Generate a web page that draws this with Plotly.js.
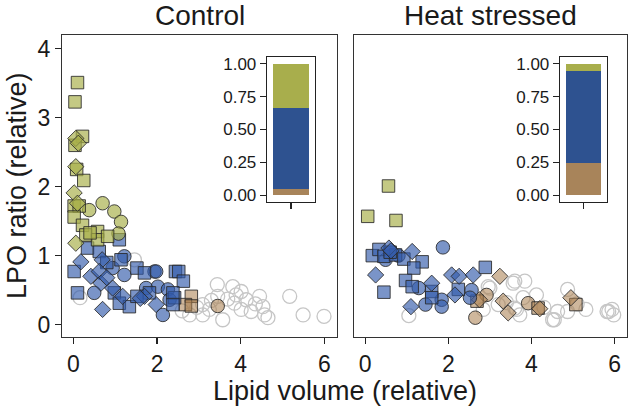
<!DOCTYPE html>
<html>
<head>
<meta charset="utf-8">
<script src="https://cdn.plot.ly/plotly-3.0.1.min.js"></script>
<style>html,body{margin:0;padding:0;background:#fff;}#chart{width:630px;height:411px;}</style>
</head>
<body>
<div id="chart"></div>
<script>
// ---------------- Data ----------------
// Control panel
var ctrlGreenSqX = [0.10,0.04,0.22,0.04,0.08,0.25,0.02,0.14,0.02,0.22,0.30,0.58,0.58,0.82,0.40];
var ctrlGreenSqY = [3.51,3.23,2.73,2.60,2.25,2.09,1.72,1.72,1.56,1.44,1.30,1.35,1.23,1.28,1.33];
var ctrlGreenDiX = [0.06,0.12,0.06,0.02,0.10,0.06];
var ctrlGreenDiY = [2.70,2.63,2.29,1.91,1.76,1.18];
var ctrlGreenCiX = [0.70,0.38,0.98,1.14,1.08];
var ctrlGreenCiY = [1.76,1.66,1.64,1.49,1.32];

var ctrlBlueSqX = [1.10,0.34,0.62,0.02,1.14,1.52,0.10,0.98,1.10,1.34,1.52,1.82,2.42,2.44,2.52,2.63,2.38,2.38,1.70,0.80];
var ctrlBlueSqY = [1.23,1.11,1.06,0.77,0.94,0.82,0.46,0.46,0.31,0.26,0.41,0.46,0.39,0.77,0.77,0.63,0.46,0.29,0.75,0.90];
var ctrlBlueDiX = [0.18,0.69,0.42,0.62,0.66,0.94,1.18,0.70,1.70,1.98,0.80,1.60];
var ctrlBlueDiY = [0.91,0.94,0.70,0.77,0.60,0.53,0.41,0.22,0.41,0.29,0.68,0.38];
var ctrlBlueCiX = [1.22,1.94,0.94,1.22,0.50,1.74,2.02,2.14,2.26,1.98,2.30];
var ctrlBlueCiY = [0.99,0.77,0.82,0.72,0.46,0.53,0.55,0.14,0.51,0.77,0.36];

var ctrlBrownSqX = [2.82,2.68,2.82];
var ctrlBrownSqY = [0.41,0.29,0.27];
var ctrlBrownCiX = [3.45];
var ctrlBrownCiY = [0.27];

var ctrlGreyX = [1.46,0.16,3.44,3.81,4.01,3.45,3.69,4.13,4.45,3.85,4.01,4.25,4.53,4.57,4.65,3.57,3.09,3.09,2.78,3.25,5.17,5.49,5.99,3.89,2.95,4.35,3.30,2.60];
var ctrlGreyY = [0.94,0.39,0.58,0.55,0.48,0.41,0.37,0.36,0.41,0.31,0.22,0.19,0.26,0.14,0.10,0.07,0.29,0.14,0.14,0.22,0.41,0.14,0.12,0.43,0.25,0.30,0.35,0.20];

// Heat stressed panel
var heatGreenSqX = [0.06,0.56,0.74];
var heatGreenSqY = [1.57,2.01,1.51];

var heatBlueSqX = [0.17,0.33,0.45,0.73,0.93,1.37,1.17,0.45,0.97,1.13,1.60,1.60,2.24,2.89,0.60];
var heatBlueSqY = [1.00,1.09,0.99,1.01,0.95,0.91,0.82,0.47,0.64,0.55,0.48,0.39,0.51,0.83,1.05];
var heatBlueDiX = [0.57,0.62,1.13,0.25,1.60,1.10,2.08,2.26,2.16,2.60];
var heatBlueDiY = [1.11,1.07,1.06,0.72,0.60,0.26,0.72,0.70,0.43,0.72];
var heatBlueCiX = [0.49,1.87,1.29,1.45,1.84,1.84,2.56,2.52,0.80];
var heatBlueCiY = [0.94,1.12,0.53,0.29,0.36,0.26,0.50,0.39,1.00];

var heatBrownSqX = [2.69,4.16,5.07];
var heatBrownSqY = [0.34,0.24,0.29];
var heatBrownDiX = [2.75,3.24,3.32,3.44,4.20,4.95];
var heatBrownDiY = [0.36,0.70,0.34,0.17,0.23,0.39];
var heatBrownCiX = [2.92,2.65,3.92];
var heatBrownCiY = [0.43,0.10,0.31];

var heatGreyX = [1.05,3.60,3.84,2.96,3.20,3.60,3.80,4.12,3.72,4.63,4.55,4.87,4.87,5.31,5.82,5.94,5.98,2.84,3.00,3.56,4.51,5.86,3.64,3.40,4.30,5.10];
var heatGreyY = [0.13,0.63,0.63,0.55,0.29,0.24,0.39,0.43,0.14,0.19,0.07,0.51,0.19,0.22,0.19,0.22,0.14,0.22,0.53,0.60,0.07,0.19,0.22,0.32,0.25,0.30];

// Inset proportions (stacked: brown, blue, green)
var insetCats = ['a'];
var ctrlBrownProp = [0.045], ctrlBlueProp = [0.615], ctrlGreenProp = [0.34];
var heatBrownProp = [0.245], heatBlueProp = [0.70], heatGreenProp = [0.055];
var mainTicks = [0, 2, 4, 6];
var yTicks = [0, 1, 2, 3, 4];
var insetTicks = [0, 0.25, 0.5, 0.75, 1];
var insetTickText = ['0.00', '0.25', '0.50', '0.75', '1.00'];

// ---------------- Styles ----------------
var FONT = 'Liberation Sans, Arial, sans-serif';
var TXT = '#1a1a1a';
var fills = {
  green: 'rgba(168,176,74,0.68)',
  blue: 'rgba(50,90,170,0.65)',
  brown: 'rgba(168,124,74,0.55)'
};
var barCols = {green: '#a8ae4c', blue: '#2e5290', brown: '#a8845a'};
var sym = {sq: 'square', di: 'diamond', ci: 'circle'};
var sizes = {sq: 12.5, di: 12.5, ci: 13.5};

function pts(x, y, col, shape, xa, ya) {
  return {
    type: 'scatter', mode: 'markers', x: x, y: y, xaxis: xa, yaxis: ya,
    hoverinfo: 'skip', showlegend: false,
    marker: {symbol: sym[shape], size: sizes[shape], color: fills[col],
             line: {color: 'rgba(40,40,40,0.85)', width: 1}}
  };
}
function grey(x, y, xa, ya) {
  return {
    type: 'scatter', mode: 'markers', x: x, y: y, xaxis: xa, yaxis: ya,
    hoverinfo: 'skip', showlegend: false,
    marker: {symbol: 'circle-open', size: 14, color: '#c6c6c6', line: {color: '#c6c6c6', width: 1.3}}
  };
}
function bar(vals, col, xa, ya) {
  return {type: 'bar', x: insetCats, y: vals, xaxis: xa, yaxis: ya, width: 0.75,
          marker: {color: barCols[col], line: {width: 0}}, showlegend: false, hoverinfo: 'skip'};
}

var data = [
  grey(ctrlGreyX, ctrlGreyY, 'x', 'y'),
  pts(ctrlBrownSqX, ctrlBrownSqY, 'brown', 'sq', 'x', 'y'),
  pts(ctrlBrownCiX, ctrlBrownCiY, 'brown', 'ci', 'x', 'y'),
  pts(ctrlBlueCiX, ctrlBlueCiY, 'blue', 'ci', 'x', 'y'),
  pts(ctrlBlueSqX, ctrlBlueSqY, 'blue', 'sq', 'x', 'y'),
  pts(ctrlBlueDiX, ctrlBlueDiY, 'blue', 'di', 'x', 'y'),
  pts(ctrlGreenCiX, ctrlGreenCiY, 'green', 'ci', 'x', 'y'),
  pts(ctrlGreenSqX, ctrlGreenSqY, 'green', 'sq', 'x', 'y'),
  pts(ctrlGreenDiX, ctrlGreenDiY, 'green', 'di', 'x', 'y'),

  grey(heatGreyX, heatGreyY, 'x2', 'y2'),
  pts(heatBrownCiX, heatBrownCiY, 'brown', 'ci', 'x2', 'y2'),
  pts(heatBrownSqX, heatBrownSqY, 'brown', 'sq', 'x2', 'y2'),
  pts(heatBrownDiX, heatBrownDiY, 'brown', 'di', 'x2', 'y2'),
  pts(heatBlueCiX, heatBlueCiY, 'blue', 'ci', 'x2', 'y2'),
  pts(heatBlueSqX, heatBlueSqY, 'blue', 'sq', 'x2', 'y2'),
  pts(heatBlueDiX, heatBlueDiY, 'blue', 'di', 'x2', 'y2'),
  pts(heatGreenSqX, heatGreenSqY, 'green', 'sq', 'x2', 'y2'),

  bar(ctrlBrownProp, 'brown', 'x3', 'y3'),
  bar(ctrlBlueProp, 'blue', 'x3', 'y3'),
  bar(ctrlGreenProp, 'green', 'x3', 'y3'),
  bar(heatBrownProp, 'brown', 'x4', 'y4'),
  bar(heatBlueProp, 'blue', 'x4', 'y4'),
  bar(heatGreenProp, 'green', 'x4', 'y4')
];

var W = 630, H = 411;
function px(a, b) { return [a / W, b / W]; }
function py(top, bottom) { return [1 - bottom / H, 1 - top / H]; }

var mainX = {
  range: [-0.27, 6.3], tickvals: mainTicks, ticks: 'outside', ticklen: 6, tickwidth: 1.3,
  tickcolor: '#222', showline: true, mirror: true, linecolor: '#333', linewidth: 1.2,
  showgrid: false, zeroline: false, tickfont: {family: FONT, size: 23, color: TXT}, fixedrange: true
};
var mainY = {
  range: [-0.18, 4.2], tickvals: yTicks, ticks: 'outside', ticklen: 6, tickwidth: 1.3,
  tickcolor: '#222', showline: true, mirror: true, linecolor: '#333', linewidth: 1.2,
  showgrid: false, zeroline: false, tickfont: {family: FONT, size: 23, color: TXT}, fixedrange: true
};
function clone(o) { return JSON.parse(JSON.stringify(o)); }

var insX = {
  range: [-0.5, 0.5], type: 'category', tickvals: insetCats, ticktext: [''], ticks: 'outside', ticklen: 6, tickwidth: 1.3,
  tickcolor: '#222', showline: true, mirror: true, linecolor: '#222', linewidth: 1.3, showgrid: false, zeroline: false
};
var insY = {
  range: [-0.05, 1.05], tickvals: insetTicks, ticktext: insetTickText,
  ticks: 'outside', ticklen: 6, tickwidth: 1.6, tickcolor: '#222', showline: true, mirror: true,
  linecolor: '#222', linewidth: 1.3, showgrid: false, zeroline: false,
  tickfont: {family: FONT, size: 17, color: TXT}
};

var xa1 = clone(mainX); xa1.domain = px(62, 337); xa1.anchor = 'y';
var ya1 = clone(mainY); ya1.domain = py(35, 337); ya1.anchor = 'x';
var xa2 = clone(mainX); xa2.domain = px(354, 627); xa2.anchor = 'y2';
var ya2 = clone(mainY); ya2.domain = py(35, 337); ya2.anchor = 'x2'; ya2.showticklabels = false; ya2.ticks = '';

var xa3 = clone(insX); xa3.domain = px(267, 315); xa3.anchor = 'y3';
var ya3 = clone(insY); ya3.domain = py(57, 202); ya3.anchor = 'x3';
var xa4 = clone(insX); xa4.domain = px(560, 607); xa4.anchor = 'y4';
var ya4 = clone(insY); ya4.domain = py(57, 202); ya4.anchor = 'x4';

var layout = {
  width: W, height: H, margin: {l: 0, r: 0, t: 0, b: 0},
  paper_bgcolor: '#fff', plot_bgcolor: '#fff', barmode: 'stack', showlegend: false,
  xaxis: xa1, yaxis: ya1, xaxis2: xa2, yaxis2: ya2, xaxis3: xa3, yaxis3: ya3, xaxis4: xa4, yaxis4: ya4,
  annotations: [
    {text: 'Control', xref: 'paper', yref: 'paper', x: (62 + 337) / 2 / W, y: 1 - 16 / H,
     showarrow: false, xanchor: 'center', yanchor: 'middle', font: {family: FONT, size: 28, color: TXT}},
    {text: 'Heat stressed', xref: 'paper', yref: 'paper', x: (354 + 627) / 2 / W, y: 1 - 16 / H,
     showarrow: false, xanchor: 'center', yanchor: 'middle', font: {family: FONT, size: 28, color: TXT}},
    {text: 'Lipid volume (relative)', xref: 'paper', yref: 'paper', x: 345 / W, y: 1 - 391 / H,
     showarrow: false, xanchor: 'center', yanchor: 'middle', font: {family: FONT, size: 27, color: TXT}},
    {text: 'LPO ratio (relative)', xref: 'paper', yref: 'paper', x: 17 / W, y: 1 - 186 / H, textangle: -90,
     showarrow: false, xanchor: 'center', yanchor: 'middle', font: {family: FONT, size: 27, color: TXT}}
  ]
};

Plotly.newPlot('chart', data, layout, {displayModeBar: false, staticPlot: true});
</script>
</body>
</html>
